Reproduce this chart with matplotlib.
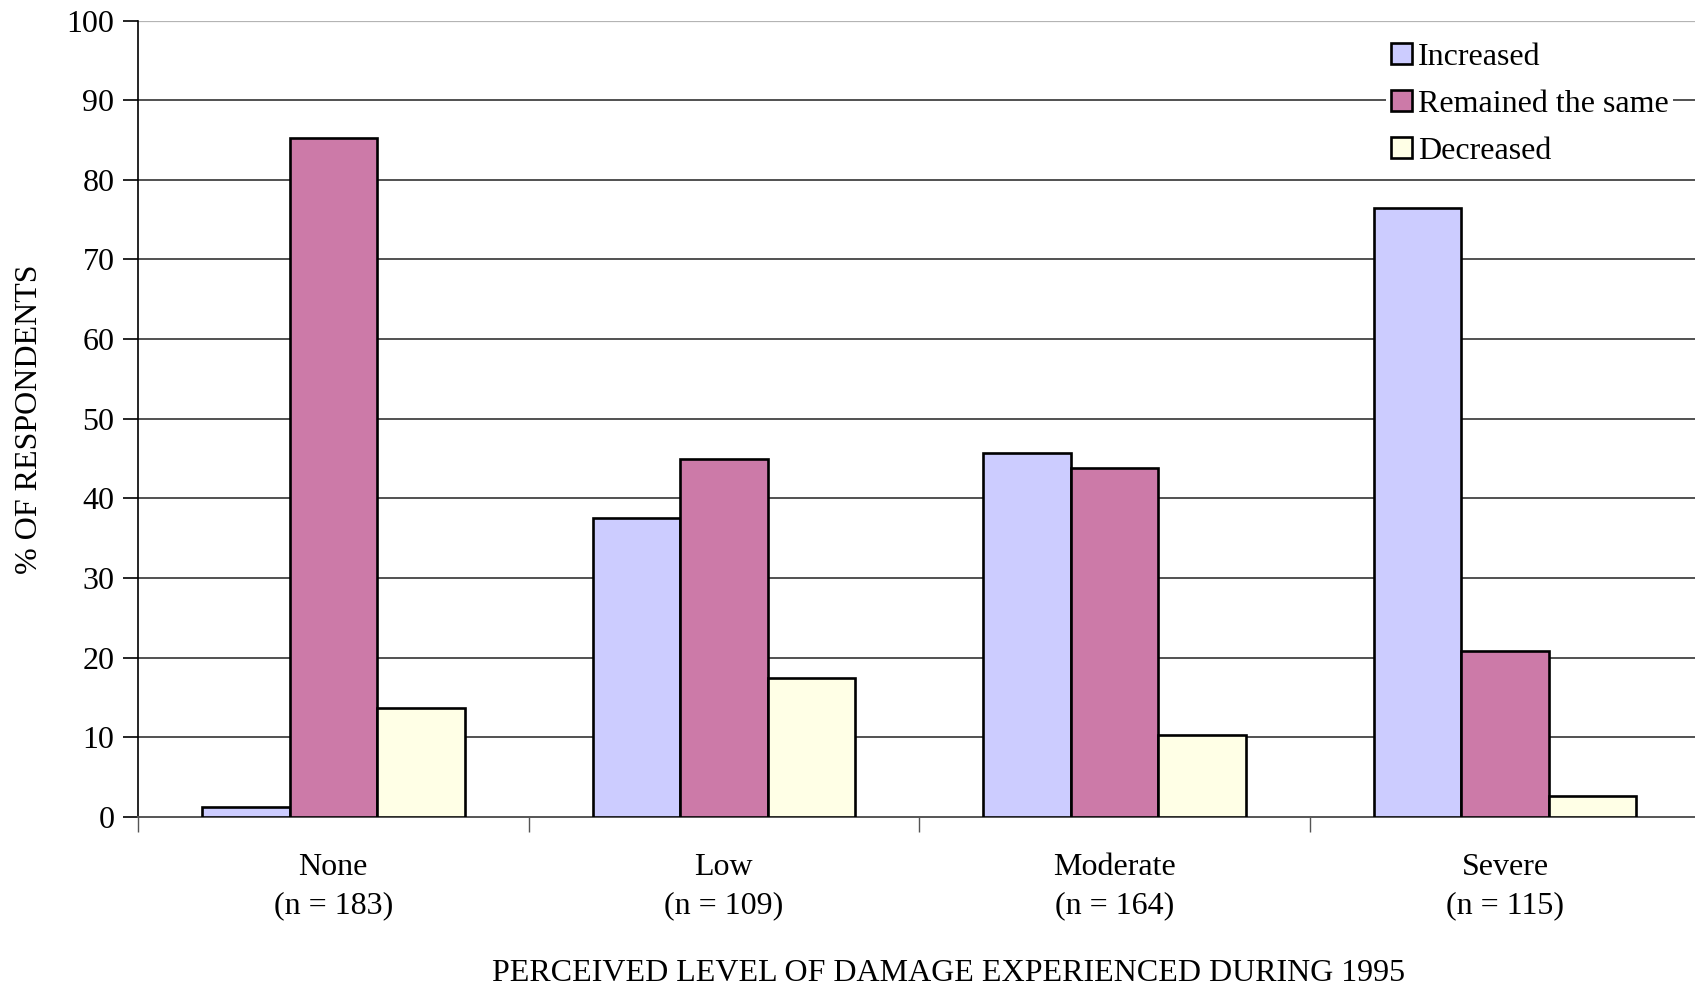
import matplotlib
matplotlib.use("Agg")
import matplotlib.pyplot as plt
import numpy as np

# Survey responses by perceived damage level
categories = ["None", "Low", "Moderate", "Severe"]
sample_sizes = [183, 109, 164, 115]
series_names = ["Increased", "Remained the same", "Decreased"]
increased = [1.2, 37.6, 45.7, 76.5]
remained = [85.2, 44.9, 43.8, 20.8]
decreased = [13.7, 17.5, 10.3, 2.6]
series_colors = ["#CCCCFF", "#CC7AA8", "#FFFFE6"]

plt.rcParams["font.family"] = ["Liberation Serif", "DejaVu Serif"]
FS = 23

fig = plt.figure(figsize=(16.95, 9.91), dpi=100)
ax = fig.add_axes([138 / 1695, 1 - 817 / 991, 4 * 390.6 / 1695, (817 - 20.5) / 991])

centers = np.arange(len(categories)) + 0.5
bar_w = 0.224
values = [increased, remained, decreased]
for i, (name, vals, col) in enumerate(zip(series_names, values, series_colors)):
    ax.bar(centers + (i - 1) * bar_w, vals, width=bar_w, color=col,
           edgecolor="black", linewidth=1.9, label=name, zorder=3)

ax.set_xlim(0, len(categories))
ax.set_ylim(0, 100)

# horizontal gridlines
for y in range(10, 100, 10):
    ax.axhline(y, color="#333333", linewidth=1.2, zorder=1)
ax.axhline(100, color="#b4b4b4", linewidth=1.6, zorder=1)

for side in ["top", "right"]:
    ax.spines[side].set_visible(False)
ax.spines["left"].set_color("black")
ax.spines["left"].set_linewidth(1.2)
ax.spines["bottom"].set_color("#555555")
ax.spines["bottom"].set_linewidth(1.4)

ax.set_yticks(range(0, 101, 10))
ax.tick_params(axis="y", direction="out", length=11, width=1.2, labelsize=FS, pad=6)

ax.set_xticks(centers)
ax.set_xticklabels([f"{c}\n(n = {n})" for c, n in zip(categories, sample_sizes)],
                   fontsize=FS, linespacing=1.42)
ax.set_xticks(np.arange(len(categories) + 1), minor=True)
ax.tick_params(axis="x", which="major", length=0, pad=26)
ax.tick_params(axis="x", which="minor", direction="out", length=11, width=1.0, color="#555555")

ax.set_ylabel("% OF RESPONDENTS", fontsize=FS, labelpad=16)
ax.set_xlabel("PERCEIVED LEVEL OF DAMAGE EXPERIENCED DURING 1995", fontsize=FS)
ax.xaxis.set_label_coords(0.519, -0.196)
ax.xaxis.label.set_verticalalignment("center")

leg = ax.legend(loc="upper left", bbox_to_anchor=(1386 / 1695, 1 - 38 / 991),
                bbox_transform=fig.transFigure, frameon=True, fontsize=FS,
                handlelength=0.65, handleheight=0.65, handletextpad=0.2,
                labelspacing=0.56, borderpad=0.15, borderaxespad=0)
leg.get_frame().set_facecolor("white")
leg.get_frame().set_edgecolor("none")
leg.get_frame().set_alpha(1)

fig.savefig("out.png", dpi=100)
